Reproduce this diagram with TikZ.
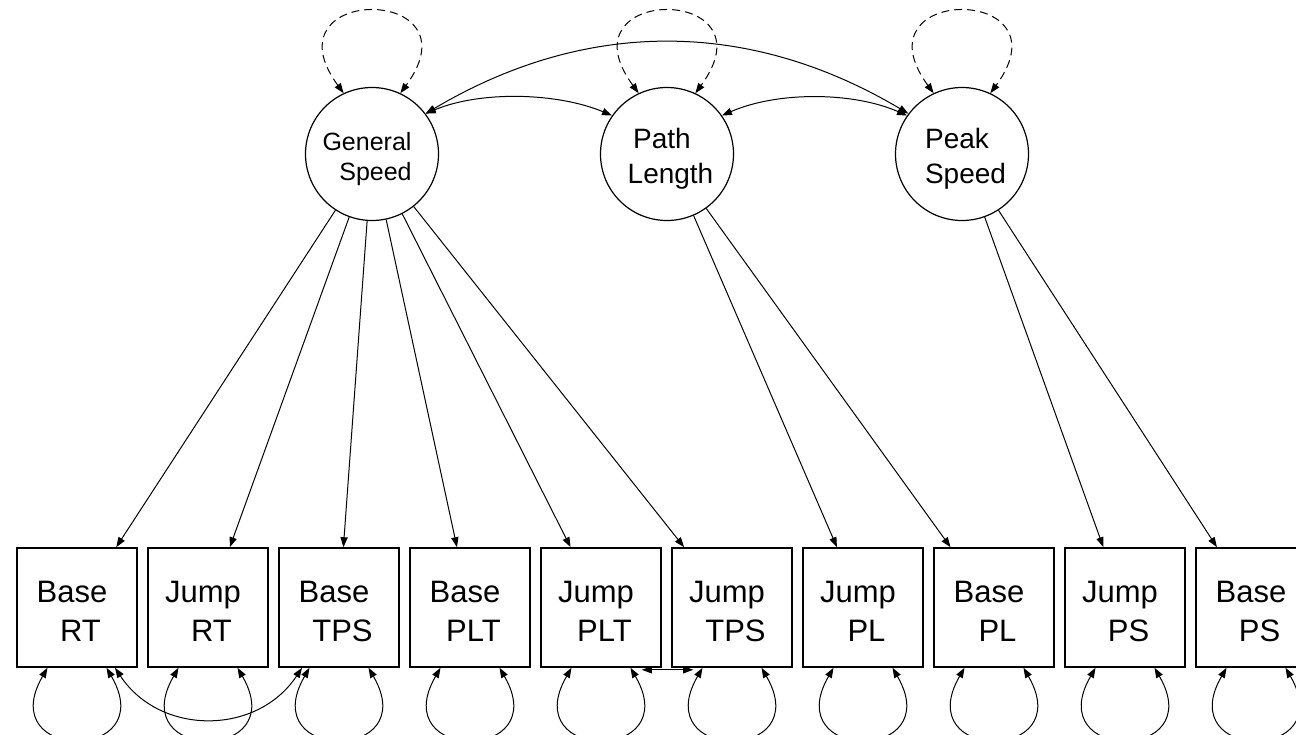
\documentclass[tikz,border=0pt]{standalone}
\usepackage{fontspec}
\setmainfont{Liberation Sans}
\usetikzlibrary{arrows.meta}

% keep descenders of a last line out of the vertical centring
\newcommand{\nodepth}[1]{\raisebox{0pt}[\height][0pt]{#1}}
% two-line labels: first line nudged left, second nudged right
\newcommand{\twolines}[3]{\rule{0pt}{#1}#2\hspace*{5pt}\\\hspace*{3.5pt}\nodepth{#3}}

\begin{document}
\begin{tikzpicture}[x=0.5pt, y=-0.5pt,
  >={Triangle[length=5pt,width=3.6pt]},
  latent/.style={circle, draw, line width=0.6pt, minimum size=66.5pt,
    inner sep=0pt, align=center, font=\fontsize{14}{17.5}\selectfont},
  manifest/.style={rectangle, draw, fill=white, line width=0.8pt,
    minimum width=60pt, minimum height=59.5pt, inner sep=0pt,
    align=center, font=\fontsize{15.5}{19.5}\selectfont},
  load/.style={->, line width=0.5pt},
  cov/.style={<->, line width=0.5pt},
  resid/.style={<->, line width=0.5pt},
  latvar/.style={<->, line width=0.5pt, dash pattern=on 4pt off 2.5pt},
]
\clip (0,0) rectangle (1296,734);
\fill[white] (0,0) rectangle (1296,734);

% latent factors
\node[latent, font=\fontsize{12.5}{15}\selectfont] (gs) at (372,154)
  {\twolines{11pt}{General}{Speed}};
\node[latent] (pl) at (667,154) {\twolines{12.2pt}{Path}{Length}};
\node[latent] (ps) at (962,154) {\twolines{12.2pt}{Peak}{Speed}};

% observed indicators
\node[manifest] (brt)  at (77,607.5)   {\twolines{14pt}{Base}{RT}};
\node[manifest] (jrt)  at (208,607.5)  {\twolines{14pt}{Jump}{RT}};
\node[manifest] (btps) at (339,607.5)  {\twolines{14pt}{Base}{TPS}};
\node[manifest] (bplt) at (470,607.5)  {\twolines{14pt}{Base}{PLT}};
\node[manifest] (jplt) at (601,607.5)  {\twolines{14pt}{Jump}{PLT}};
\node[manifest] (jtps) at (732,607.5)  {\twolines{14pt}{Jump}{TPS}};
\node[manifest] (jpl)  at (863,607.5)  {\twolines{14pt}{Jump}{PL}};
\node[manifest] (bpl)  at (994,607.5)  {\twolines{14pt}{Base}{PL}};
\node[manifest] (jps)  at (1125,607.5) {\twolines{14pt}{Jump}{PS}};
\node[manifest] (bps)  at (1256,607.5) {\twolines{14pt}{Base}{PS}};

% factor loadings
\foreach \m in {brt,jrt,btps,bplt,jplt,jtps} \draw[load] (gs) -- (\m);
\foreach \m in {jpl,bpl} \draw[load] (pl) -- (\m);
\foreach \m in {jps,bps} \draw[load] (ps) -- (\m);

% factor variances
\foreach \f in {gs,pl,ps}
  \draw[latvar] (\f.115) .. controls +(-80,-109) and +(80,-109) .. (\f.65);

% factor covariances
\draw[cov] (gs.37) .. controls +(55,-23) and +(-55,-23) .. (pl.145);
\draw[cov] (pl.35) .. controls +(55,-24) and +(-55,-24) .. (ps.145);
\draw[cov] (gs.37) .. controls +(160,-95) and +(-160,-95) .. (ps.143);

% residual variances
\foreach \m in {brt,jrt,btps,bplt,jplt,jtps,jpl,bpl,jps,bps}
  \draw[resid] ([xshift=-14.75pt]\m.south) .. controls +(-55,95) and +(55,95)
    .. ([xshift=14.75pt]\m.south);

% residual covariances
\draw[cov] ([xshift=19pt]brt.south) .. controls +(45,68) and +(-45,68)
  .. ([xshift=-18.5pt]btps.south);
\draw[cov] ([xshift=-10pt,yshift=-1pt]jplt.south east)
  -- ([xshift=11pt,yshift=-1pt]jtps.south west);
\end{tikzpicture}
\end{document}
